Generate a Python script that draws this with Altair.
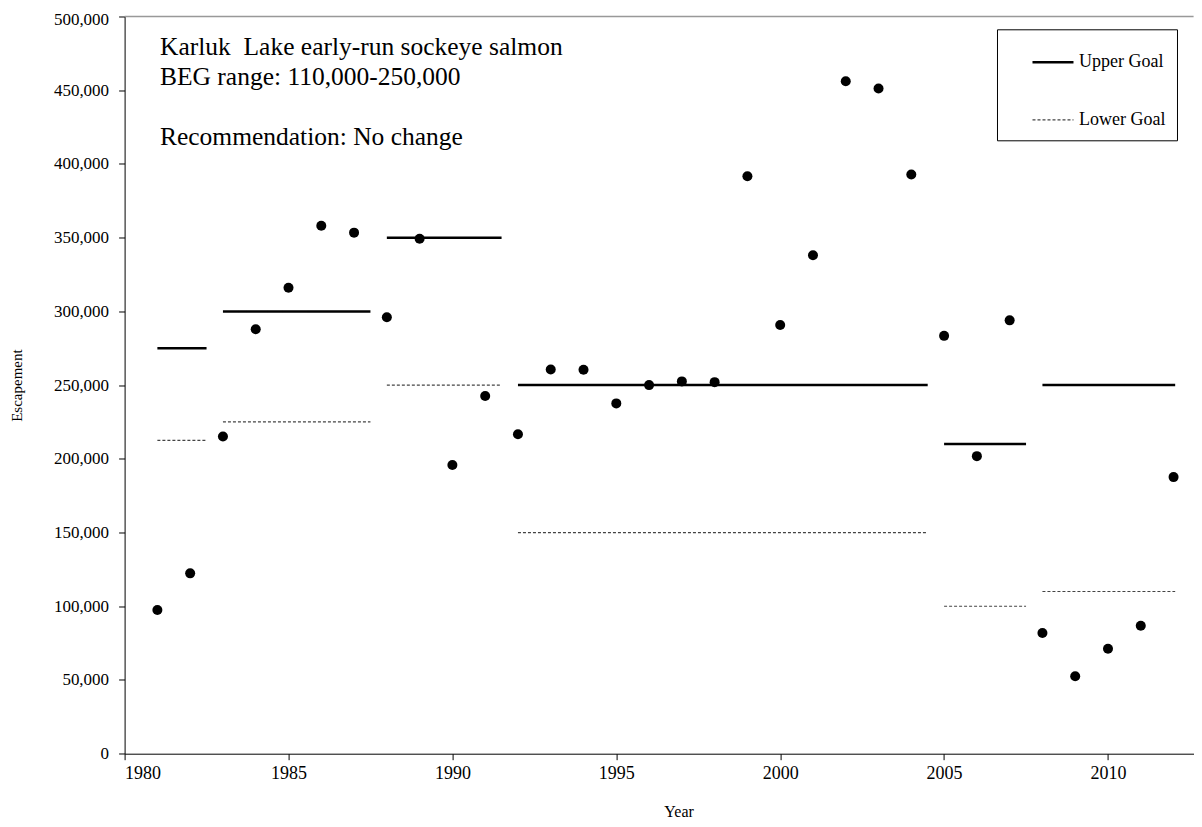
import altair as alt
import pandas as pd

# ---- data ----
years = list(range(1981, 2013))
escapement = [97500, 122300, 215100, 287900, 316000, 358100, 353400, 296000,
              349300, 195800, 242600, 216700, 260600, 260400, 237600, 250000,
              252500, 252000, 391700, 290800, 338100, 456100, 451200, 392800,
              283400, 201800, 293900, 81800, 52500, 71200, 86800, 187600]

goal_start = [1981, 1983, 1988, 1992, 2005, 2008]
goal_end = [1982.5, 1987.5, 1991.5, 2004.5, 2007.5, 2012.05]
upper_goal = [275000, 300000, 350000, 250000, 210000, 250000]
lower_goal = [212500, 225000, 250000, 150000, 100000, 110000]

x_ticks = [1980, 1985, 1990, 1995, 2000, 2005, 2010]
y_ticks = list(range(0, 500001, 50000))

annotation_lines = ["Karluk\u00a0 Lake early-run sockeye salmon",
                    "BEG range: 110,000-250,000",
                    "Recommendation: No change"]

# ---- tables ----
pts = pd.DataFrame({"Year": years, "Escapement": escapement})
rows = []
for s, e, u, l in zip(goal_start, goal_end, upper_goal, lower_goal):
    rows.append({"start": s, "end": e, "value": u, "Goal": "Upper Goal"})
    rows.append({"start": s, "end": e, "value": l, "Goal": "Lower Goal"})
goals = pd.DataFrame(rows)
ann = pd.DataFrame({"text": annotation_lines, "py": [38.5, 68.5, 128.5]})

FONT = "Liberation Serif"
PAD_TOP = 8.5
W, H = 1069, 737.2
XMAX = 1980 + W / 32.78

xscale = alt.Scale(domain=[1980, XMAX], nice=False, zero=False)
yscale = alt.Scale(domain=[0, 500000], nice=False)

xaxis = alt.Axis(values=x_ticks, format="d", grid=False, tickSize=6,
                 tickColor="black", domainColor="black", labelColor="black",
                 labelFont=FONT, labelFontSize=18, labelPadding=5,
                 title="Year", titleFont=FONT, titleFontSize=16,
                 titleFontWeight="normal", titleX=554, titleY=58,
                 titleBaseline="middle", titleColor="black")
yaxis = alt.Axis(values=y_ticks, format=",d", grid=False, tickSize=6,
                 tickColor="black", domainColor="black", labelColor="black",
                 labelFont=FONT, labelFontSize=17,
                 labelPadding=10,
                 labelOffset={"condition": {"test": "datum.value === 500000", "value": 3},
                              "value": 0},
                 title="Escapement", titleFont=FONT, titleFontSize=15,
                 titleFontWeight="normal", titleX=-108, titleY=H / 2,
                 titleAngle=-90, titleAlign="center", titleBaseline="middle",
                 titleColor="black")

goal_order = ["Upper Goal", "Lower Goal"]
pad_label = "datum.label + '\u2003\u2003'"
goal_legend = alt.Legend(labelExpr=pad_label)
goal_layer = alt.Chart(goals).mark_rule().encode(
    x=alt.X("start:Q", scale=xscale, axis=xaxis),
    x2="end:Q",
    y=alt.Y("value:Q", scale=yscale, axis=yaxis),
    strokeDash=alt.StrokeDash("Goal:N", sort=goal_order, legend=goal_legend,
                              scale=alt.Scale(domain=goal_order, range=[[1, 0], [3, 2]])),
    strokeWidth=alt.StrokeWidth("Goal:N", sort=goal_order, legend=goal_legend,
                                scale=alt.Scale(domain=goal_order, range=[2.5, 1.2])),
    color=alt.Color("Goal:N", sort=goal_order, legend=goal_legend,
                    scale=alt.Scale(domain=goal_order, range=["black", "#444444"])),
)

point_layer = alt.Chart(pts).mark_circle(size=100, color="black", opacity=1).encode(
    x=alt.X("Year:Q", scale=xscale, axis=xaxis),
    y=alt.Y("Escapement:Q", scale=yscale, axis=yaxis),
)

top_border = alt.Chart(pd.DataFrame({"v": [500000]})).mark_rule(
    color="#999999", strokeWidth=1.5).encode(
    y=alt.Y("v:Q", scale=yscale, axis=yaxis))

text_layer = alt.Chart(ann).mark_text(
    align="left", baseline="alphabetic", font=FONT, fontSize=25.5, color="black"
).encode(x=alt.value(35.4), y=alt.Y("py:Q", scale=None), text="text:N")

chart = alt.layer(goal_layer, point_layer, top_border, text_layer).properties(
    width=W, height=H,
    autosize=alt.AutoSizeParams(type="none"),
    padding={"left": 116.6, "top": PAD_TOP, "right": 0, "bottom": 66},
).configure_view(stroke=None).configure_legend(
    orient="none", legendX=872.4, legendY=12.8, strokeColor="black",
    strokeWidth=1, fillColor="white", padding=11, symbolOffset=23,
    symbolType="stroke", symbolSize=1681, labelFont=FONT, labelFontSize=18,
    labelColor="black", labelOffset=4, rowPadding=27, title=None,
    cornerRadius=0, labelLimit=300,
)

chart.save("out.html", embed_options={"renderer": "svg", "actions": False})
